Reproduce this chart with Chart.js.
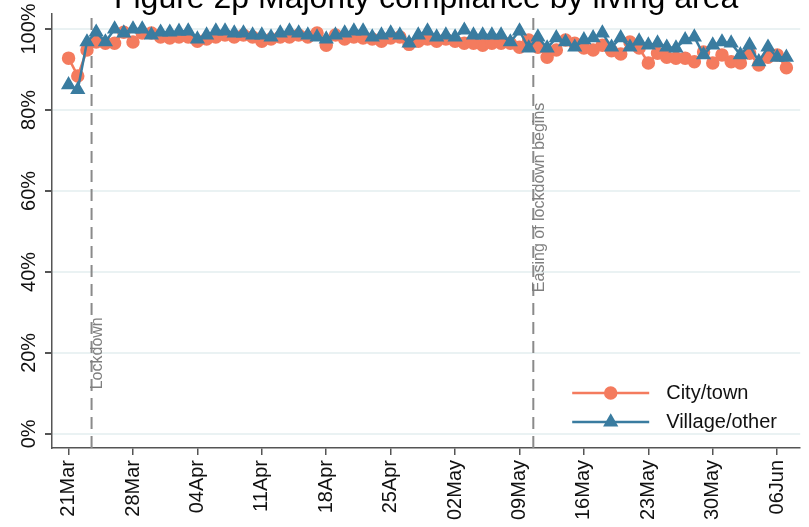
<!DOCTYPE html>
<html>
<head>
<meta charset="utf-8">
<script src="https://cdn.jsdelivr.net/npm/chart.js@4"></script>
<style>
  html, body { margin: 0; padding: 0; background: #fff; }
</style>
</head>
<body>
<canvas id="c" width="809" height="527"></canvas>
<script>
const TITLE = 'Figure 2p Majority compliance by living area';

// day index 0 = 21 Mar, one value per day up to 07 Jun
const tickDays = [0, 7, 14, 21, 28, 35, 42, 49, 56, 63, 70, 77];
const tickLabels = ['21Mar', '28Mar', '04Apr', '11Apr', '18Apr', '25Apr', '02May', '09May', '16May', '23May', '30May', '06Jun'];
const yTicks = [0, 20, 40, 60, 80, 100];

const cityTown = [
  92.8, 88.4, 94.8, 96.8, 96.5, 96.5, 99.2, 96.8, 99.0, 99.0,
  98.0, 97.8, 98.0, 98.0, 97.0, 97.5, 98.0, 98.5, 98.0, 98.5,
  98.0, 97.0, 97.5, 98.0, 98.0, 98.5, 98.0, 99.0, 96.0, 98.5,
  97.5, 98.0, 97.8, 97.5, 97.0, 97.8, 98.0, 96.2, 97.0, 97.5,
  97.0, 97.5, 97.0, 96.5, 96.5, 96.0, 96.5, 96.5, 96.5, 95.5,
  97.3, 95.5, 93.0, 94.8, 97.3, 96.5, 95.3, 94.8, 96.0, 94.6,
  93.8, 96.8, 95.3, 91.6, 94.0, 93.0, 92.8, 92.8, 91.9, 94.3,
  91.6, 93.6, 91.9, 91.6, 94.0, 91.1, 93.0, 93.6, 90.4
];
const villageOther = [
  86.2, 85.0, 96.8, 99.2, 96.8, 100.0, 99.0, 100.0, 100.0, 98.5,
  99.2, 99.2, 99.4, 99.5, 97.5, 98.5, 99.5, 99.5, 99.0, 99.0,
  98.5, 98.5, 98.0, 99.0, 99.5, 99.0, 98.5, 98.0, 97.5, 98.5,
  99.0, 99.5, 99.5, 98.0, 98.5, 99.0, 98.5, 96.5, 98.5, 99.5,
  98.0, 98.5, 98.0, 99.7, 98.5, 98.5, 98.5, 98.5, 96.8, 99.5,
  95.3, 98.0, 95.3, 97.8, 96.8, 95.5, 97.3, 97.8, 99.0, 95.5,
  97.8, 95.5, 97.0, 96.0, 96.5, 95.5, 95.3, 97.3, 98.0, 93.6,
  96.0, 96.8, 96.5, 93.6, 96.0, 91.9, 95.5, 93.0, 93.0
];

const eventDays = [2.5, 50.5];
const eventLabels = ['Lockdown', 'Easing of lockdown begins'];

const FONT = '"Liberation Sans", Arial, sans-serif';
const ORANGE = '#f47b5e';
const BLUE = '#3a7ca0';

const toPts = (arr) => arr.map((v, i) => ({ x: i, y: v }));

// title, event lines, legend
const decor = {
  id: 'decor',
  beforeDatasetsDraw(chart) {
    const ctx = chart.ctx, ca = chart.chartArea, xs = chart.scales.x, ys = chart.scales.y;
    const labelAt = [11, 35];
    ctx.save();
    eventDays.forEach((d, i) => {
      const px = xs.getPixelForValue(d);
      ctx.strokeStyle = '#8a8a8a';
      ctx.lineWidth = 2;
      ctx.setLineDash([12, 7]);
      ctx.beginPath();
      ctx.moveTo(px, ca.bottom);
      ctx.lineTo(px, ca.top);
      ctx.stroke();
      ctx.setLineDash([]);
      ctx.save();
      ctx.translate(px + 6.5, ys.getPixelForValue(labelAt[i]));
      ctx.rotate(-Math.PI / 2);
      ctx.fillStyle = '#7f7f7f';
      ctx.font = '16px ' + FONT;
      ctx.textAlign = 'left';
      ctx.textBaseline = 'middle';
      ctx.fillText(eventLabels[i], 0, 0);
      ctx.restore();
    });
    ctx.restore();
  },
  afterDraw(chart) {
    const ctx = chart.ctx, ca = chart.chartArea;
    ctx.save();
    ctx.fillStyle = '#000';
    ctx.font = '32px ' + FONT;
    ctx.textAlign = 'center';
    ctx.textBaseline = 'alphabetic';
    ctx.fillText(TITLE, (ca.left + ca.right) / 2, 8);

    const x0 = ca.right - 228, x1 = ca.right - 151;
    const rows = [393, 422];
    chart.data.datasets.forEach((ds, i) => {
      const y = rows[i];
      ctx.strokeStyle = ds.borderColor;
      ctx.lineWidth = ds.borderWidth;
      ctx.beginPath();
      ctx.moveTo(x0, y);
      ctx.lineTo(x1, y);
      ctx.stroke();
      ctx.fillStyle = ds.pointBackgroundColor;
      ctx.strokeStyle = ds.pointBorderColor;
      Chart.helpers.drawPoint(ctx, { pointStyle: ds.pointStyle, radius: ds.pointRadius, rotation: 0, borderWidth: 1 }, (x0 + x1) / 2, y);
      ctx.fillStyle = '#111';
      ctx.font = '20px ' + FONT;
      ctx.textAlign = 'left';
      ctx.textBaseline = 'middle';
      ctx.fillText(ds.label, ca.right - 134, y);
    });
    ctx.restore();
  }
};

new Chart(document.getElementById('c'), {
  type: 'line',
  data: {
    datasets: [
      {
        label: 'City/town',
        data: toPts(cityTown),
        borderColor: ORANGE,
        backgroundColor: ORANGE,
        pointBackgroundColor: ORANGE,
        pointBorderColor: ORANGE,
        pointStyle: 'circle',
        pointRadius: 5.5,
        borderWidth: 2.5,
        order: 2
      },
      {
        label: 'Village/other',
        data: toPts(villageOther),
        borderColor: BLUE,
        backgroundColor: BLUE,
        pointBackgroundColor: BLUE,
        pointBorderColor: BLUE,
        pointStyle: 'triangle',
        pointRadius: 6.3,
        borderWidth: 2.5,
        order: 1
      }
    ]
  },
  options: {
    responsive: false,
    animation: false,
    devicePixelRatio: 1,
    layout: { padding: { top: 14, right: 6, left: 0, bottom: 0 } },
    plugins: { legend: { display: false }, tooltip: { enabled: false } },
    scales: {
      x: {
        type: 'linear',
        min: -1.8,
        max: 79.5,
        afterBuildTicks: (s) => { s.ticks = tickDays.map(v => ({ value: v })); },
        afterFit: (s) => { s.height = 79; },
        ticks: {
          callback: (v, i) => tickLabels[i],
          minRotation: 90,
          maxRotation: 90,
          autoSkip: false,
          padding: 5,
          color: '#111',
          font: { family: FONT, size: 20 }
        },
        grid: { drawOnChartArea: false, tickLength: 7, tickColor: '#555', lineWidth: 1.5 },
        border: { color: '#555', width: 1.5 }
      },
      y: {
        min: -3.5,
        max: 103.7,
        afterBuildTicks: (s) => { s.ticks = yTicks.map(v => ({ value: v })); },
        afterFit: (s) => { s.width = 52; },
        ticks: {
          callback: (v) => v + '%',
          minRotation: 90,
          maxRotation: 90,
          crossAlign: 'center',
          padding: -10,
          color: '#111',
          font: { family: FONT, size: 20 }
        },
        grid: { color: '#eaf2f3', lineWidth: 2, tickLength: 7, tickColor: '#555' },
        border: { color: '#555', width: 1.5 }
      }
    }
  },
  plugins: [decor]
});
</script>
</body>
</html>
